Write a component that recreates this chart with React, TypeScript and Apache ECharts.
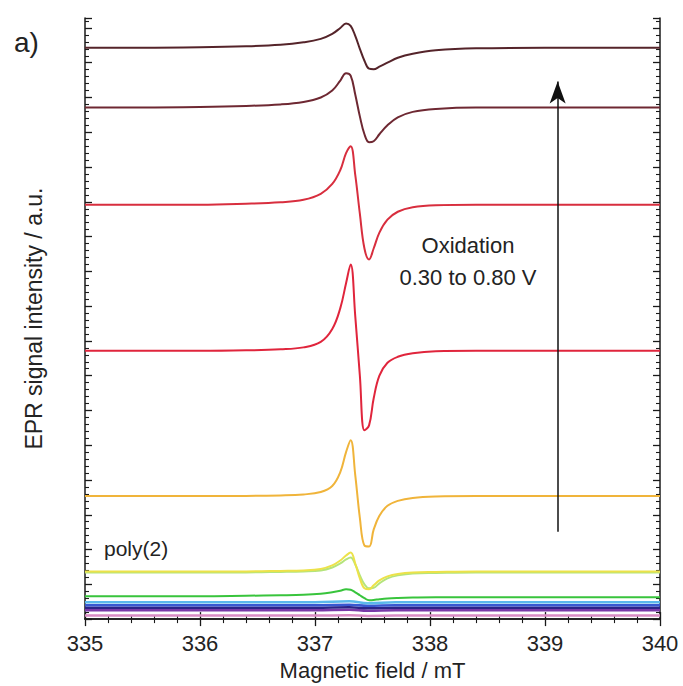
import React, { useEffect, useRef } from "react";
import * as echarts from "echarts";

// Magnetic field sampling (mT) for the main spectra
const fieldMT = [335, 335.5, 336, 336.4, 336.7, 336.9, 337.05, 337.15, 337.22, 337.27, 337.31, 337.35, 337.39, 337.43, 337.47, 337.51, 337.56, 337.63, 337.72, 337.85, 338.05, 338.4, 339, 340];
// Coarse sampling for the nearly flat low-potential spectra
const fieldCoarse = [335, 336, 337, 337.3, 337.46, 337.7, 338, 339, 340];

// EPR intensities (a.u., stacked with offsets), top trace = highest potential
const spec080 = [575, 575, 575.5, 576.5, 578, 580.5, 584, 589, 595, 599.5, 597, 587, 574, 562, 554, 553.5, 556, 560, 565, 569, 572.5, 574.5, 575, 575];
const spec070 = [515, 515, 515.5, 516.5, 518, 520.5, 525, 532, 542, 549.5, 547, 528, 506, 488, 480, 481, 488, 497, 505, 510.5, 513.5, 515, 515, 515];
const spec060 = [417, 417, 417, 418, 419.5, 422, 428, 438, 452, 469, 476, 447, 408, 373, 362, 373, 389, 402, 410, 414.5, 416.5, 417, 417, 417];
const spec055 = [270, 270, 270, 270.5, 271.5, 273.5, 279, 292, 313, 338, 357, 305, 245, 190, 195, 222, 245, 258, 264, 267.5, 269.5, 270, 270, 270];
const spec050 = [124, 124, 124, 124, 124.5, 125.5, 128, 134, 148, 168, 180, 145, 102, 74, 73, 90, 104, 114, 119, 122, 123.5, 124, 124, 124];
const spec045 = [48, 48, 48, 48, 48.5, 49, 50.5, 54, 59, 64, 67, 56, 41, 31, 30, 34, 39, 43, 45.5, 47, 47.5, 48, 48, 48];
const spec042 = [47, 47, 47, 47, 47.5, 48, 49, 52, 56, 60, 62, 55, 44, 35, 31, 31.5, 36, 41, 44, 46, 46.5, 47, 47, 47];
const spec040 = [23, 23, 23, 23.5, 24, 24.5, 25.5, 27, 28.5, 30, 29.5, 27, 24, 21, 19, 19.2, 20, 20.8, 21.3, 21.7, 22, 22, 22, 22];
const spec038 = [17, 17, 17, 18, 16, 17, 17, 17, 17];
const spec035 = [14, 14, 14, 14.5, 13.5, 14, 14, 14, 14];
const spec033 = [11.5, 11.5, 11.5, 12, 11, 11.5, 11.5, 11.5, 11.5];
const spec031 = [9, 9, 9, 9.5, 8.5, 9, 9, 9, 9];
const spec030 = [3.5, 3.5, 3.5, 3.8, 3.2, 3.5, 3.5, 3.5, 3.5];

const xTicks = [335, 336, 337, 338, 339, 340];

// Arrow: field position and intensity range
const arrowField = 339.11;
const arrowFrom = 88;
const arrowTo = 541;

const FONT = "'Liberation Sans', Arial, Helvetica, sans-serif";
const TEXT = "#232323";

function pairs(xs: number[], ys: number[]) {
  return xs.map((x, i) => [x, ys[i]]);
}

export default function App() {
  const ref = useRef<HTMLDivElement>(null);
  useEffect(() => {
    if (!ref.current) return;
    const chart = echarts.init(ref.current, null, { renderer: "svg" });

    const mk = (name: string, xs: number[], ys: number[], color: string, width: number, z = 2) => ({
      name,
      type: "line",
      data: pairs(xs, ys),
      showSymbol: false,
      symbol: "none",
      smooth: 0.4,
      lineStyle: { color, width },
      z,
    });

    const series: any[] = [
      mk("0.30 V", fieldCoarse, spec030, "#d98cc4", 2.5),
      mk("0.31 V", fieldCoarse, spec031, "#7a3aa8", 2.5),
      mk("0.33 V", fieldCoarse, spec033, "#2b2488", 2.5),
      mk("0.35 V", fieldCoarse, spec035, "#3858d0", 2.5),
      mk("0.38 V", fieldCoarse, spec038, "#5ab8ec", 2.5),
      mk("0.40 V", fieldMT, spec040, "#38c43c", 2),
      mk("0.42 V", fieldMT, spec042, "#b4e47c", 2),
      mk("0.45 V", fieldMT, spec045, "#ece24a", 2),
      mk("0.50 V", fieldMT, spec050, "#f0b43a", 2),
      mk("0.55 V", fieldMT, spec055, "#e0253c", 2),
      mk("0.60 V", fieldMT, spec060, "#d82e3e", 2),
      mk("0.70 V", fieldMT, spec070, "#6e2832", 2),
      mk("0.80 V", fieldMT, spec080, "#55242a", 2),
    ];
    series.push({
      type: "line",
      data: [],
      markLine: {
        silent: true,
        symbol: ["none", "arrow"],
        symbolSize: [12, 22],
        label: { show: false },
        lineStyle: { color: "#111", width: 1.5, type: "solid" },
        data: [[{ coord: [arrowField, arrowFrom] }, { coord: [arrowField, arrowTo] }]],
      },
    });

    const axisCommon = {
      axisLine: { show: true, lineStyle: { color: "#1a1a1a", width: 1.5 } },
      splitLine: { show: false },
    };
    const xTick = { show: true, inside: true, length: 7, lineStyle: { color: "#1a1a1a", width: 1.3 } };
    const xMinor = { show: true, splitNumber: 5, length: 4, lineStyle: { color: "#1a1a1a", width: 1.1 } };
    const yTick = { show: true, inside: true, length: 7, lineStyle: { color: "#1a1a1a", width: 1.3 } };
    const yMinor = { show: true, splitNumber: 5, length: 4, lineStyle: { color: "#1a1a1a", width: 1.1 } };

    chart.setOption({
      animation: false,
      backgroundColor: "#ffffff",
      grid: { left: 85, right: 23, top: 18, bottom: 63, containLabel: false },
      xAxis: [
        {
          type: "value",
          min: 335,
          max: 340,
          interval: 1,
          position: "bottom",
          ...axisCommon,
          axisTick: xTick,
          minorTick: xMinor,
          axisLabel: {
            show: true,
            margin: 13,
            fontSize: 22,
            fontFamily: FONT,
            color: TEXT,
            formatter: (v: number) => (xTicks.includes(v) ? String(v) : ""),
          },
          name: "Magnetic field / mT",
          nameLocation: "middle",
          nameGap: 38,
          nameTextStyle: { fontSize: 22, fontFamily: FONT, color: TEXT },
        },
        {
          type: "value",
          min: 335,
          max: 340,
          interval: 1,
          position: "top",
          ...axisCommon,
          axisTick: xTick,
          minorTick: xMinor,
          axisLabel: { show: false },
        },
      ],
      yAxis: [
        {
          type: "value",
          min: 0,
          max: 605,
          interval: 35,
          position: "left",
          ...axisCommon,
          axisTick: yTick,
          minorTick: yMinor,
          axisLabel: { show: false },
          name: "EPR signal intensity / a.u.",
          nameLocation: "middle",
          nameGap: 40,
          nameTextStyle: { fontSize: 23, fontFamily: FONT, color: TEXT },
        },
        {
          type: "value",
          min: 0,
          max: 605,
          interval: 35,
          position: "right",
          ...axisCommon,
          axisTick: yTick,
          minorTick: yMinor,
          axisLabel: { show: false },
        },
      ],
      graphic: [
        {
          type: "text",
          left: 14,
          top: 28,
          style: { text: "a)", fontSize: 28, fontFamily: FONT, fill: TEXT },
        },
        {
          type: "text",
          x: 468,
          y: 245,
          style: { text: "Oxidation", fontSize: 22, fontFamily: FONT, fill: TEXT, align: "center", verticalAlign: "middle" },
        },
        {
          type: "text",
          x: 468,
          y: 277,
          style: { text: "0.30 to 0.80 V", fontSize: 22, fontFamily: FONT, fill: TEXT, align: "center", verticalAlign: "middle" },
        },
        {
          type: "text",
          x: 104,
          y: 548,
          style: { text: "poly(2)", fontSize: 21, fontFamily: FONT, fill: TEXT, align: "left", verticalAlign: "middle" },
        },
      ],
      series,
    });
    return () => chart.dispose();
  }, []);
  return <div ref={ref} style={{ position: "fixed", left: 0, top: 0, width: 683, height: 686 }} />;
}
